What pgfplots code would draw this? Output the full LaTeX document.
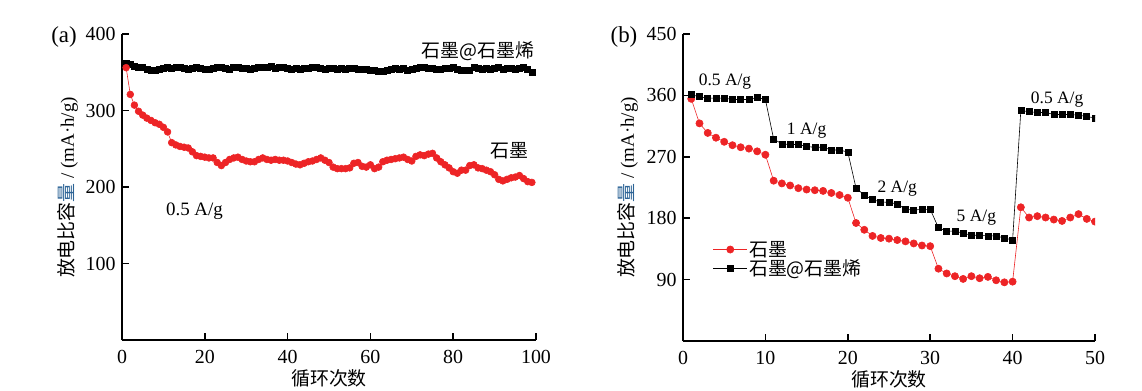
\documentclass[border=0pt]{standalone}
\usepackage{pgfplots}
\pgfplotsset{compat=1.18}
\usepackage{pgfplotstable}
\usepackage{fontspec}
\setmainfont{Liberation Serif}
\newfontfamily\cjk{Noto Sans CJK SC}
\definecolor{myred}{RGB}{237,36,38}
\definecolor{liangblue}{RGB}{45,100,150}

\pgfplotstableread{
x y
1 356
2 321
3 307
4 299
5 294
6 290
7 287
8 284
9 282
10 278
11 272
12 258
13 255
14 253
15 252
16 251
17 246
18 241
19 240
20 239
21 238
22 238
23 232
24 228
25 232
26 236
27 238
28 239
29 236
30 234
31 233
32 233
33 236
34 238
35 236
36 235
37 236
38 235
39 235
40 234
41 232
42 230
43 229
44 231
45 233
46 234
47 236
48 238
49 235
50 232
51 226
52 224
53 224
54 224
55 225
56 231
57 232
58 227
59 226
60 229
61 224
62 226
63 233
64 235
65 236
66 237
67 238
68 239
69 236
70 234
71 240
72 242
73 241
74 243
75 244
76 238
77 233
78 229
79 225
80 220
81 218
82 222
83 222
84 228
85 229
86 225
87 224
88 222
89 220
90 216
91 210
92 208
93 210
94 212
95 213
96 215
97 211
98 207
99 206
}\graphiteA

\pgfplotstableread{
x y
1 362
2 360
3 358
4 357
5 356
6 354
7 353
8 353
9 354
10 355
11 356
12 355
13 356
14 356
15 355
16 354
17 355
18 356
19 355
20 354
21 354
22 355
23 356
24 357
25 355
26 354
27 356
28 357
29 355
30 355
31 354
32 355
33 356
34 356
35 357
36 358
37 355
38 357
39 356
40 355
41 354
42 355
43 354
44 355
45 355
46 356
47 356
48 355
49 354
50 355
51 355
52 354
53 355
54 354
55 355
56 355
57 354
58 354
59 354
60 353
61 352
62 351
63 351
64 352
65 354
66 355
67 354
68 355
69 353
70 354
71 355
72 357
73 356
74 355
75 355
76 354
77 354
78 355
79 355
80 356
81 354
82 353
83 352
84 353
85 356
86 355
87 354
88 355
89 354
90 355
91 356
92 354
93 355
94 355
95 354
96 355
97 356
98 354
99 350
}\grapheneA

\pgfplotstableread{
x y
1 355
2 319
3 305
4 298
5 292
6 287
7 284
8 282
9 278
10 273
11 235
12 231
13 228
14 224
15 222
16 221
17 220
18 217
19 214
20 210
21 173
22 163
23 154
24 151
25 150
26 148
27 146
28 143
29 140
30 139
31 106
32 99
33 95
34 91
35 95
36 92
37 94
38 89
39 86
40 87
41 196
42 181
43 183
44 181
45 178
46 176
47 181
48 186
49 179
50 175
}\graphiteB

\pgfplotstableread{
x y
1 361
2 358
3 356
4 356
5 356
6 354
7 354
8 354
9 357
10 354
11 296
12 289
13 288
14 288
15 285
16 284
17 284
18 280
19 280
20 277
21 224
22 214
23 207
24 204
25 203
26 201
27 193
28 192
29 193
30 193
31 166
32 161
33 161
34 158
35 155
36 155
37 154
38 154
39 151
40 148
41 338
42 336
43 335
44 335
45 332
46 332
47 332
48 331
49 329
50 327
}\grapheneB

\pgfplotsset{
  panel/.style={
    scale only axis,
    axis x line*=bottom,
    axis y line*=left,
    axis line style={line width=1.8bp},
    tick align=inside,
    major tick length=7bp,
    every tick/.style={line width=1.5bp, black},
    tick label style={font=\fontsize{20}{23}\selectfont},
    xticklabel style={yshift=-6.5bp},
    yticklabel style={xshift=-3bp},
    /pgf/number format/assume math mode=true,
    clip marker paths=true,
    every axis x label/.style={anchor=center, font=\fontsize{19}{22}\selectfont},
  },
}

\newcommand{\ylab}{\fontsize{19}{22}\selectfont{\cjk 放电比容{\color{liangblue}量}} / (mA·h/g)}

\begin{document}
\begin{tikzpicture}
\useasboundingbox (0,0) rectangle (1142bp,391bp);

% ---------- panel (a) ----------
\begin{axis}[panel,
  at={(122bp,51bp)}, anchor=south west,
  width=414bp, height=306bp,
  xmin=0, xmax=100, ymin=0, ymax=400,
  xtick={0,20,40,60,80,100},
  ytick={100,200,300,400},
  xlabel={\cjk 循环次数},
  xlabel style={at={(axis description cs:0.5,-0.124)}},
]
\addplot[black, line width=0.6bp, mark=square*, mark size=3bp, mark options={solid}] table {\grapheneA};
\addplot[myred, line width=0.6bp, mark=*, mark size=3.4bp, mark options={solid, fill=myred, draw=myred}] table {\graphiteA};
\node[font=\cjk\fontsize{19}{22}\selectfont] at (axis cs:86,377) {石墨@石墨烯};
\node[font=\cjk\fontsize{19}{22}\selectfont] at (axis cs:93.7,247) {石墨};
\node[font=\fontsize{19}{22}\selectfont] at (axis cs:17.5,168.5) {0.5 A/g};
\end{axis}

% ---------- panel (b) ----------
\begin{axis}[panel,
  at={(683bp,50bp)}, anchor=south west,
  width=412bp, height=307bp,
  xmin=0, xmax=50, ymin=0, ymax=450,
  xtick={0,10,20,30,40,50},
  ytick={90,180,270,360,450},
  xlabel={\cjk 循环次数},
  xlabel style={at={(axis description cs:0.5,-0.124)}},
  legend style={at={(axis description cs:0.065,0.337)}, anchor=north west,
    draw=none, fill=none, font=\cjk\fontsize{19}{22}\selectfont,
    row sep=-1bp, nodes={inner sep=1.5bp}},
  legend cell align=left,
  legend image code/.code={\draw[mark repeat=2,mark phase=2] plot coordinates {(0bp,0bp) (17bp,0bp) (34bp,0bp)};},
]
\addplot[myred, line width=0.6bp, mark=*, mark size=3.6bp, mark options={solid, fill=myred, draw=myred}] table {\graphiteB};
\addlegendentry{石墨}
\addplot[black, line width=0.6bp, mark=square*, mark size=3bp, mark options={solid}] table {\grapheneB};
\addlegendentry{石墨@石墨烯}
\node[font=\fontsize{17.5}{21}\selectfont] at (axis cs:5.1,380) {0.5 A/g};
\node[font=\fontsize{17.5}{21}\selectfont] at (axis cs:15.0,309) {1 A/g};
\node[font=\fontsize{17.5}{21}\selectfont] at (axis cs:26.0,224) {2 A/g};
\node[font=\fontsize{17.5}{21}\selectfont] at (axis cs:35.6,181) {5 A/g};
\node[font=\fontsize{17.5}{21}\selectfont] at (axis cs:45.4,354.5) {0.5 A/g};
\end{axis}

% axis titles and panel letters
\node[rotate=90, anchor=center] at (68bp,203.5bp) {\ylab};
\node[rotate=90, anchor=center] at (628bp,203.5bp) {\ylab};
\node[font=\fontsize{23}{26}\selectfont, anchor=center] at (64bp,354bp) {(a)};
\node[font=\fontsize{23}{26}\selectfont, anchor=center] at (624bp,354bp) {(b)};
\end{tikzpicture}
\end{document}
